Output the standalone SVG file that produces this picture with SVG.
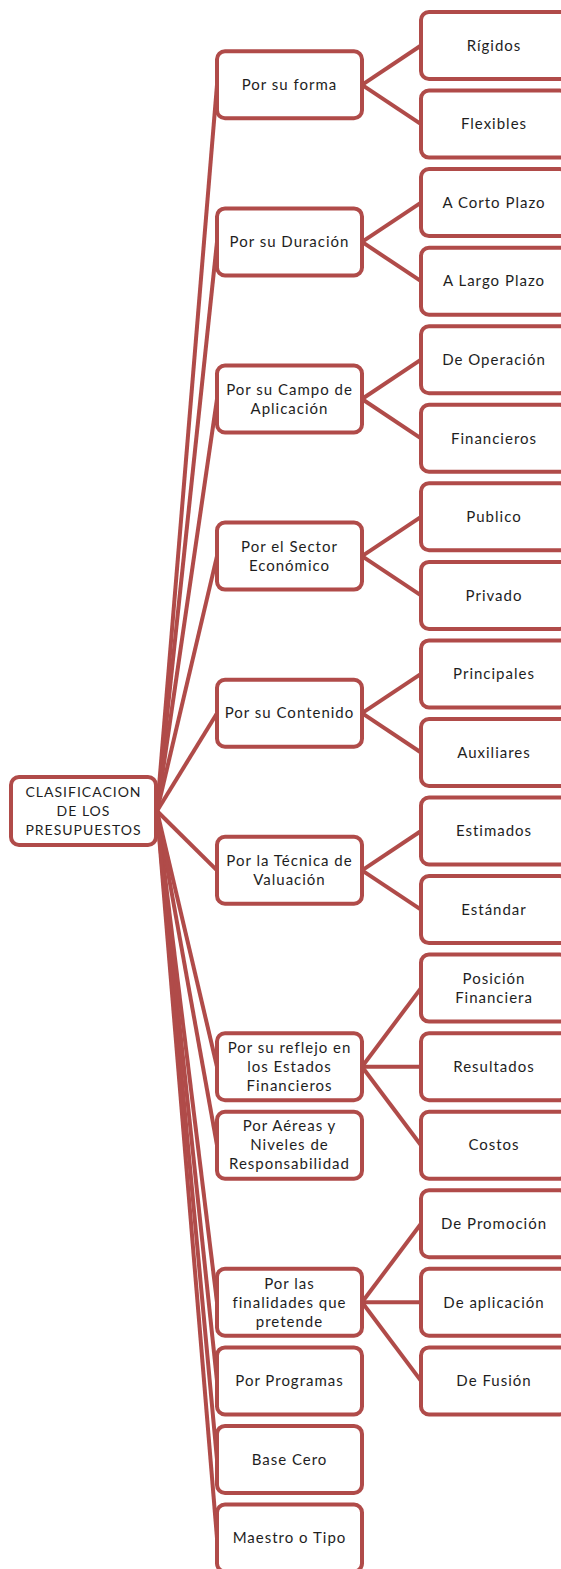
<svg xmlns="http://www.w3.org/2000/svg" width="561" height="1569" viewBox="0 0 561 1569">
<style>
.n rect{fill:#fff;stroke:#b04b49;stroke-width:4}
.n text{font-family:Lato,"Liberation Sans",sans-serif;font-size:15px;fill:#1e1e1e;text-anchor:middle;letter-spacing:1px}
#root text{font-size:14px;letter-spacing:1px}
.c line{stroke:#b04b49;stroke-width:4}
</style>
<rect width="561" height="1569" fill="#fff"/>
<g class="c" id="connectors">
<line x1="157" y1="811" x2="217" y2="84.8"/>
<line x1="157" y1="811" x2="217" y2="241.9"/>
<line x1="157" y1="811" x2="217" y2="399"/>
<line x1="157" y1="811" x2="217" y2="556.1"/>
<line x1="157" y1="811" x2="217" y2="713.2"/>
<line x1="157" y1="811" x2="217" y2="870.3"/>
<line x1="157" y1="811" x2="217" y2="1066.7"/>
<line x1="157" y1="811" x2="217" y2="1145.2"/>
<line x1="157" y1="811" x2="217" y2="1302.3"/>
<line x1="157" y1="811" x2="217" y2="1380.9"/>
<line x1="157" y1="811" x2="217" y2="1459.4"/>
<line x1="157" y1="811" x2="217" y2="1538"/>
<line x1="362" y1="84.8" x2="421" y2="45.5"/>
<line x1="362" y1="84.8" x2="421" y2="124.1"/>
<line x1="362" y1="241.9" x2="421" y2="202.6"/>
<line x1="362" y1="241.9" x2="421" y2="281.2"/>
<line x1="362" y1="399" x2="421" y2="359.7"/>
<line x1="362" y1="399" x2="421" y2="438.3"/>
<line x1="362" y1="556.1" x2="421" y2="516.8"/>
<line x1="362" y1="556.1" x2="421" y2="595.4"/>
<line x1="362" y1="713.2" x2="421" y2="673.9"/>
<line x1="362" y1="713.2" x2="421" y2="752.5"/>
<line x1="362" y1="870.3" x2="421" y2="831"/>
<line x1="362" y1="870.3" x2="421" y2="909.6"/>
<line x1="362" y1="1066.7" x2="421" y2="988.1"/>
<line x1="362" y1="1066.7" x2="421" y2="1066.7"/>
<line x1="362" y1="1066.7" x2="421" y2="1145.2"/>
<line x1="362" y1="1302.3" x2="421" y2="1223.8"/>
<line x1="362" y1="1302.3" x2="421" y2="1302.3"/>
<line x1="362" y1="1302.3" x2="421" y2="1380.9"/>
</g>
<g class="n" id="root"><rect x="11" y="777" width="145" height="68" rx="8"/><text x="83.5" y="797">CLASIFICACION<tspan x="83.5" dy="19">DE LOS</tspan><tspan x="83.5" dy="19">PRESUPUESTOS</tspan></text></g>

<g class="n" id="forma"><rect x="217" y="51.3" width="145" height="67" rx="8"/><text x="289.5" y="90">Por su forma</text></g>
<g class="n" id="duracion"><rect x="217" y="208.4" width="145" height="67" rx="8"/><text x="289.5" y="247.1">Por su Duración</text></g>
<g class="n" id="campo"><rect x="217" y="365.5" width="145" height="67" rx="8"/><text x="289.5" y="394.7">Por su Campo de<tspan x="289.5" dy="19">Aplicación</tspan></text></g>
<g class="n" id="sector"><rect x="217" y="522.6" width="145" height="67" rx="8"/><text x="289.5" y="551.8">Por el Sector<tspan x="289.5" dy="19">Económico</tspan></text></g>
<g class="n" id="contenido"><rect x="217" y="679.7" width="145" height="67" rx="8"/><text x="289.5" y="718.4">Por su Contenido</text></g>
<g class="n" id="tecnica"><rect x="217" y="836.8" width="145" height="67" rx="8"/><text x="289.5" y="866">Por la Técnica de<tspan x="289.5" dy="19">Valuación</tspan></text></g>
<g class="n" id="reflejo"><rect x="217" y="1033.2" width="145" height="67" rx="8"/><text x="289.5" y="1052.9">Por su reflejo en<tspan x="289.5" dy="19">los Estados</tspan><tspan x="289.5" dy="19">Financieros</tspan></text></g>
<g class="n" id="aereas"><rect x="217" y="1111.7" width="145" height="67" rx="8"/><text x="289.5" y="1131.4">Por Aéreas y<tspan x="289.5" dy="19">Niveles de</tspan><tspan x="289.5" dy="19">Responsabilidad</tspan></text></g>
<g class="n" id="finalidades"><rect x="217" y="1268.8" width="145" height="67" rx="8"/><text x="289.5" y="1288.5">Por las<tspan x="289.5" dy="19">finalidades que</tspan><tspan x="289.5" dy="19">pretende</tspan></text></g>
<g class="n" id="programas"><rect x="217" y="1347.4" width="145" height="67" rx="8"/><text x="289.5" y="1386.1">Por Programas</text></g>
<g class="n" id="basecero"><rect x="217" y="1425.9" width="145" height="67" rx="8"/><text x="289.5" y="1464.6">Base Cero</text></g>
<g class="n" id="maestro"><rect x="217" y="1504.5" width="145" height="67" rx="8"/><text x="289.5" y="1543.2">Maestro o Tipo</text></g>

<g class="n" id="rigidos"><rect x="421" y="12" width="147" height="67" rx="8"/><text x="494" y="50.7">Rígidos</text></g>
<g class="n" id="flexibles"><rect x="421" y="90.6" width="147" height="67" rx="8"/><text x="494" y="129.3">Flexibles</text></g>
<g class="n" id="corto"><rect x="421" y="169.1" width="147" height="67" rx="8"/><text x="494" y="207.8">A Corto Plazo</text></g>
<g class="n" id="largo"><rect x="421" y="247.7" width="147" height="67" rx="8"/><text x="494" y="286.4">A Largo Plazo</text></g>
<g class="n" id="operacion"><rect x="421" y="326.2" width="147" height="67" rx="8"/><text x="494" y="364.9">De Operación</text></g>
<g class="n" id="financieros"><rect x="421" y="404.8" width="147" height="67" rx="8"/><text x="494" y="443.5">Financieros</text></g>
<g class="n" id="publico"><rect x="421" y="483.3" width="147" height="67" rx="8"/><text x="494" y="522">Publico</text></g>
<g class="n" id="privado"><rect x="421" y="561.9" width="147" height="67" rx="8"/><text x="494" y="600.6">Privado</text></g>
<g class="n" id="principales"><rect x="421" y="640.4" width="147" height="67" rx="8"/><text x="494" y="679.1">Principales</text></g>
<g class="n" id="auxiliares"><rect x="421" y="719" width="147" height="67" rx="8"/><text x="494" y="757.7">Auxiliares</text></g>
<g class="n" id="estimados"><rect x="421" y="797.5" width="147" height="67" rx="8"/><text x="494" y="836.2">Estimados</text></g>
<g class="n" id="estandar"><rect x="421" y="876.1" width="147" height="67" rx="8"/><text x="494" y="914.8">Estándar</text></g>
<g class="n" id="posicion"><rect x="421" y="954.6" width="147" height="67" rx="8"/><text x="494" y="983.8">Posición<tspan x="494" dy="19">Financiera</tspan></text></g>
<g class="n" id="resultados"><rect x="421" y="1033.2" width="147" height="67" rx="8"/><text x="494" y="1071.9">Resultados</text></g>
<g class="n" id="costos"><rect x="421" y="1111.7" width="147" height="67" rx="8"/><text x="494" y="1150.4">Costos</text></g>
<g class="n" id="promocion"><rect x="421" y="1190.3" width="147" height="67" rx="8"/><text x="494" y="1229">De Promoción</text></g>
<g class="n" id="aplicacion"><rect x="421" y="1268.8" width="147" height="67" rx="8"/><text x="494" y="1307.5">De aplicación</text></g>
<g class="n" id="fusion"><rect x="421" y="1347.4" width="147" height="67" rx="8"/><text x="494" y="1386.1">De Fusión</text></g>
</svg>
